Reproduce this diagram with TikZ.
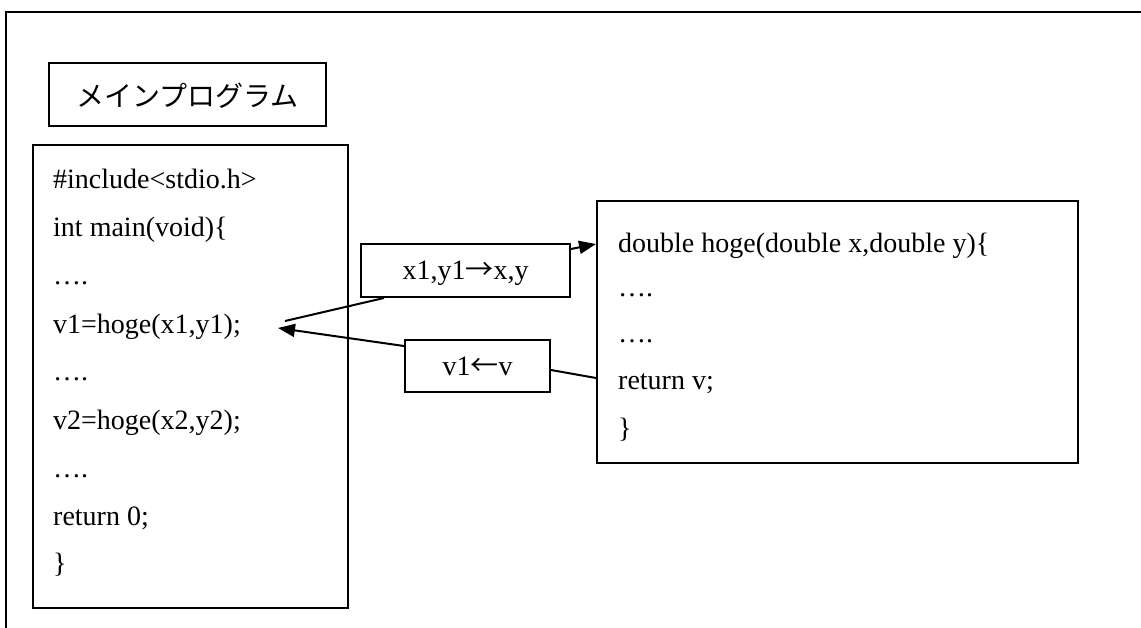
\documentclass[tikz,border=0pt]{standalone}
\usepackage{fontspec}
\setmainfont{Liberation Serif}
\newfontfamily\jafont{Noto Sans CJK JP}
\usetikzlibrary{arrows.meta,calc}

\tikzset{
  boxframe/.style={draw=black, line width=2pt, inner sep=0pt, rectangle},
  codetext/.style={anchor=base west, inner sep=0pt, font=\fontsize{28}{34}\selectfont},
  midtext/.style={anchor=base, inner sep=0pt, font=\fontsize{28}{34}\selectfont},
  conn/.style={line width=2pt},
  tipped/.style={-{Triangle[length=17pt,width=13pt]}}
}

\begin{document}
\begin{tikzpicture}[x=1pt,y=-1pt]
  \useasboundingbox (0,0) rectangle (1141,628);
  \fill[white] (0,0) rectangle (1141,628);

  % page frame (top and left edges)
  \draw[line width=2.2pt] (6,640) -- (6,12) -- (1150,12);

  % title
  \node[boxframe, minimum width=277pt, minimum height=63pt] (title) at (187.5,94.5) {};
  \node[midtext] (titletext) at (187.5,107) {\jafont メインプログラム};

  % main program listing
  \node[boxframe, minimum width=315pt, minimum height=463pt] (mainbox) at (190.5,376.5) {};
  \node[codetext] (m1) at (53,189) {\#include<stdio.h>};
  \node[codetext] (m2) at (53,237) {int main(void)\{};
  \node[codetext] (m3) at (53,285) {….};
  \node[codetext] (m4) at (53,334) {v1=hoge(x1,y1);};
  \node[codetext] (m5) at (53,381) {….};
  \node[codetext] (m6) at (53,429) {v2=hoge(x2,y2);};
  \node[codetext] (m7) at (53,477) {….};
  \node[codetext] (m8) at (53,525) {return 0;};
  \node[codetext] (m9) at (53,572) {\}};

  % function listing
  \node[boxframe, minimum width=481pt, minimum height=262pt] (func) at (837.5,332) {};
  \node[codetext] (f1) at (618,253) {double hoge(double x,double y)\{};
  \node[codetext] (f2) at (618,297) {….};
  \node[codetext] (f3) at (618,343) {….};
  \node[codetext] (f4) at (618,389) {return v;};
  \node[codetext] (f5) at (618,437) {\}};

  % argument / return value boxes
  \node[boxframe, minimum width=209pt, minimum height=53pt] (lab1) at (465.5,270.5) {};
  \node[midtext] (lab1text) at (465.5,280) {x1,y1{\jafont →}x,y};
  \node[boxframe, minimum width=145pt, minimum height=52pt] (lab2) at (477.5,366) {};
  \node[midtext] (lab2text) at (477.5,375) {v1{\jafont ←}v};

  % call and return connectors
  \coordinate (callend) at (285,321);
  \coordinate (rettip) at (278,328);
  \draw[conn] ($(lab1.south west)+(24,0)$) -- (callend);
  \draw[conn, tipped] ($(lab1.north east)+(0,6)$) -- ($(func.north west)+(0,44)$);
  \draw[conn] ($(func.west)+(0,46)$) -- ($(lab2.east)+(0,4)$);
  \draw[conn, tipped] ($(lab2.north west)+(0,7)$) -- (rettip);
\end{tikzpicture}
\end{document}
